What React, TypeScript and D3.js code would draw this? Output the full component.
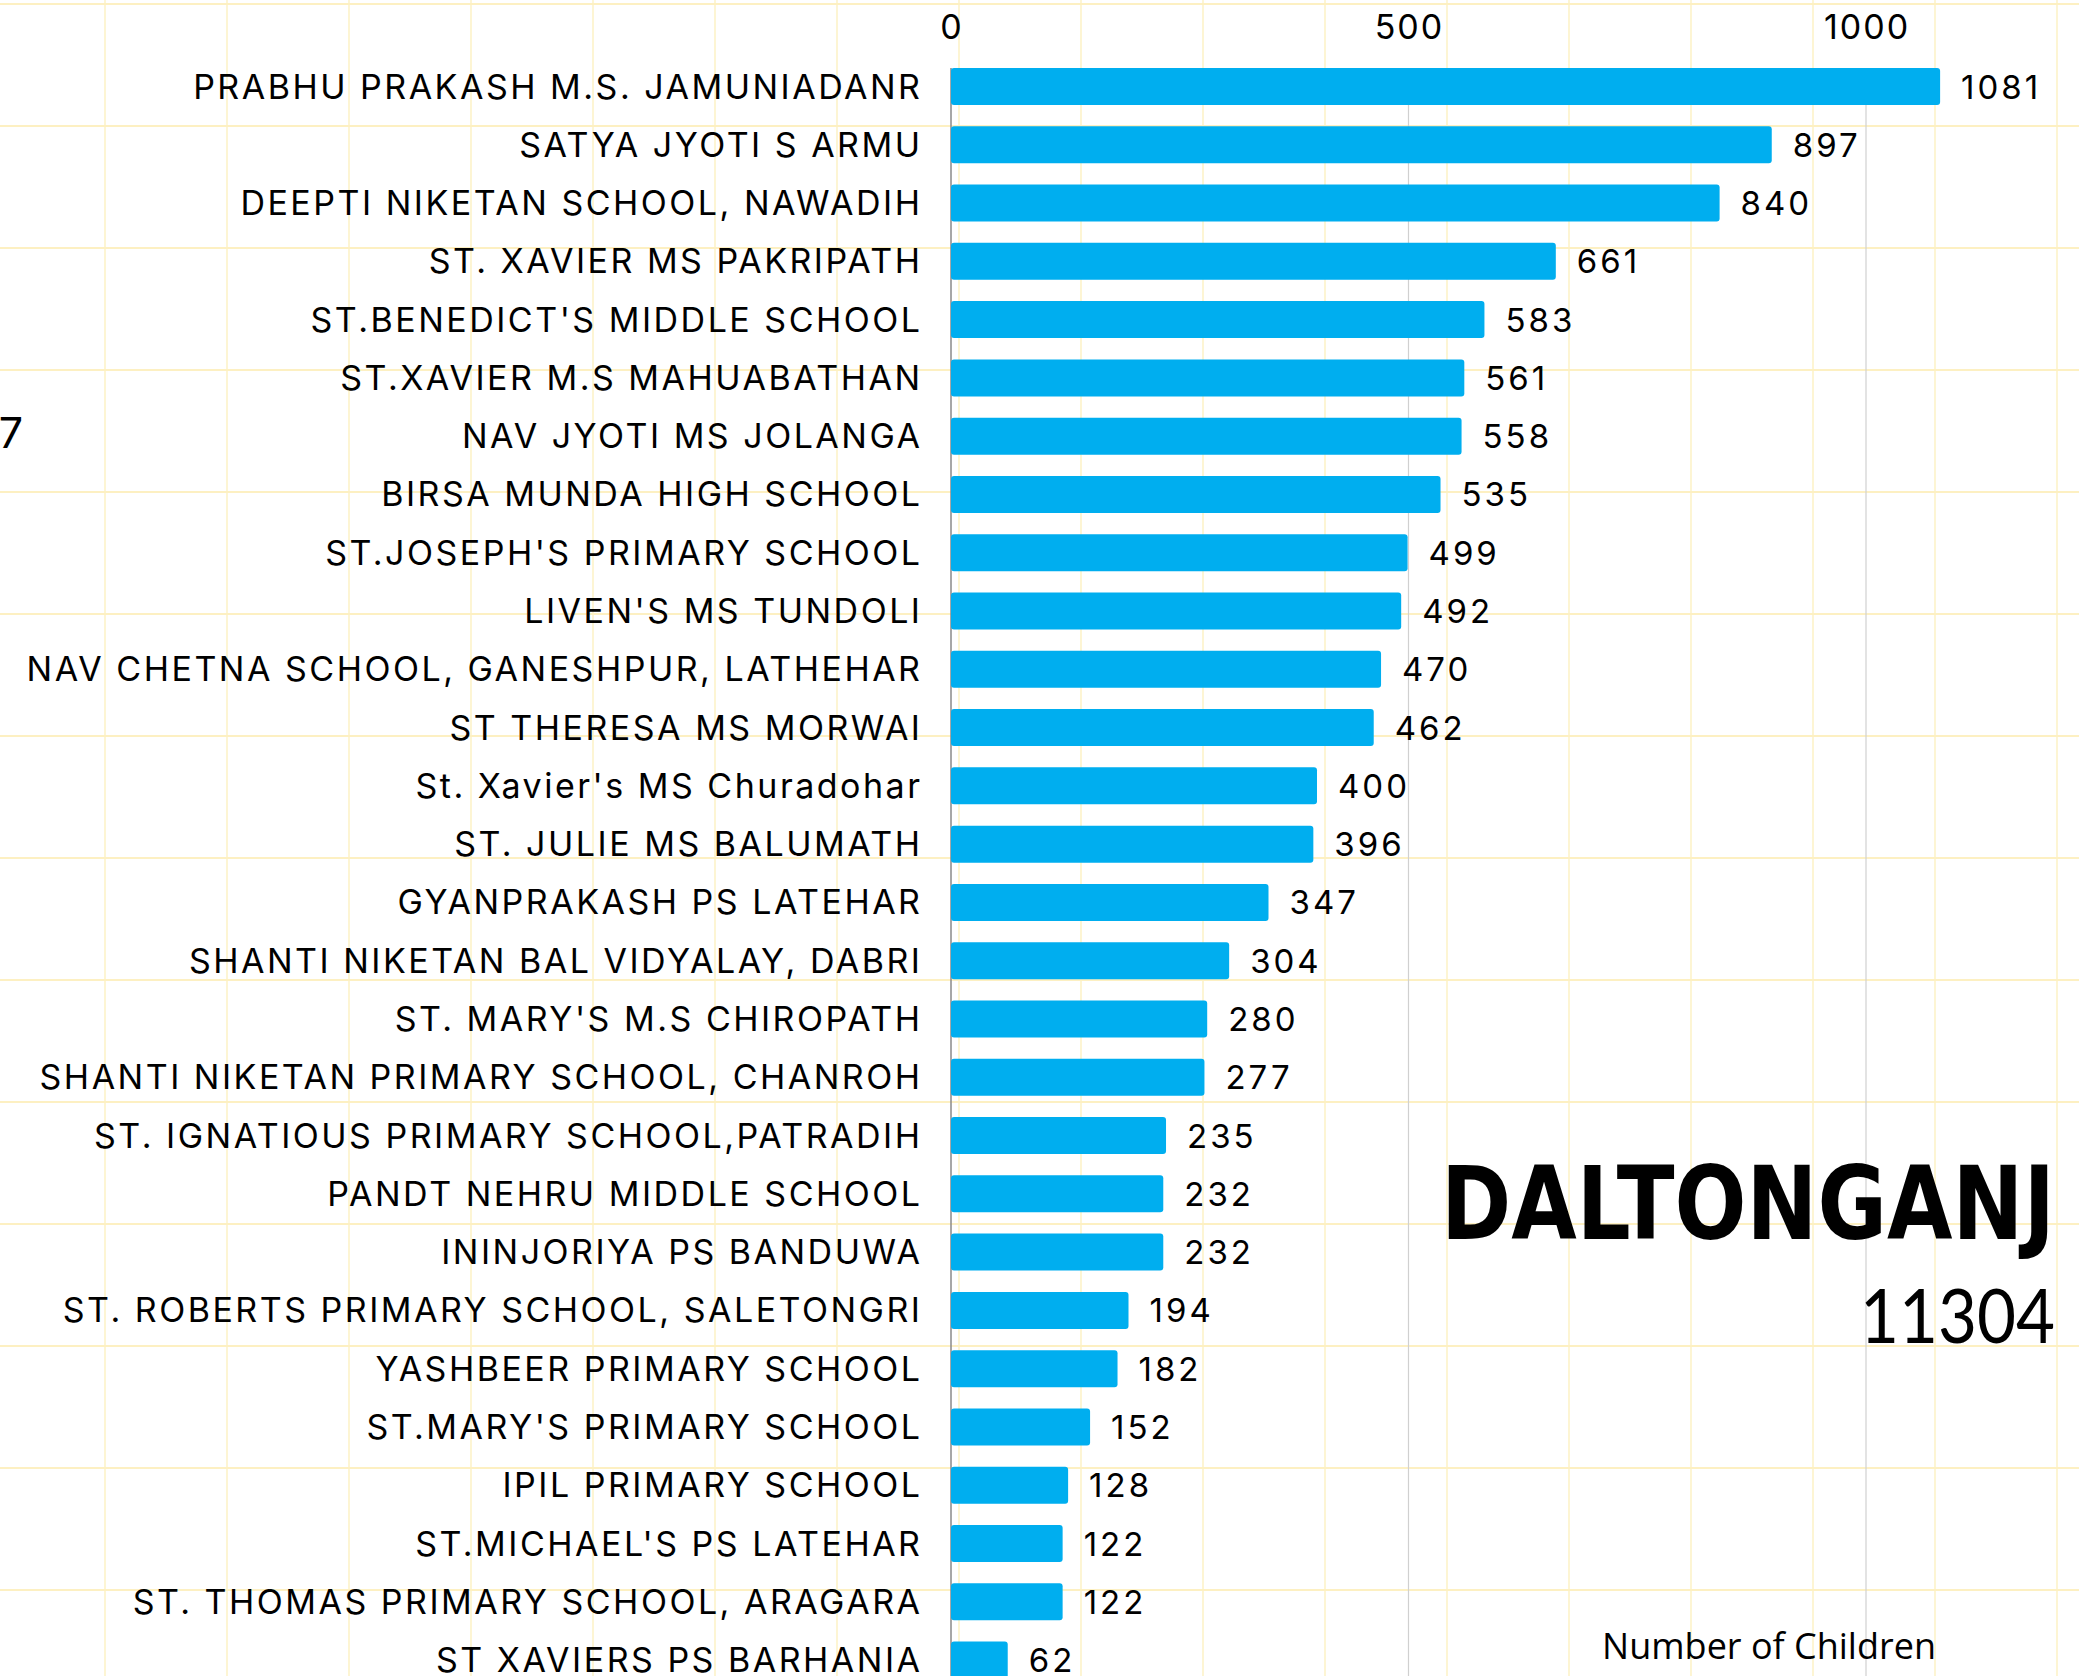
import React from "react";
import * as d3 from "d3";

const schools: string[] = [
  "PRABHU PRAKASH M.S. JAMUNIADANR",
  "SATYA JYOTI S ARMU",
  "DEEPTI NIKETAN SCHOOL, NAWADIH",
  "ST. XAVIER MS PAKRIPATH",
  "ST.BENEDICT'S MIDDLE SCHOOL",
  "ST.XAVIER M.S MAHUABATHAN",
  "NAV JYOTI MS JOLANGA",
  "BIRSA MUNDA HIGH SCHOOL",
  "ST.JOSEPH'S PRIMARY SCHOOL",
  "LIVEN'S MS TUNDOLI",
  "NAV CHETNA SCHOOL, GANESHPUR, LATHEHAR",
  "ST THERESA MS MORWAI",
  "St. Xavier's MS Churadohar",
  "ST. JULIE MS BALUMATH",
  "GYANPRAKASH PS LATEHAR",
  "SHANTI NIKETAN BAL VIDYALAY, DABRI",
  "ST. MARY'S M.S CHIROPATH",
  "SHANTI NIKETAN PRIMARY SCHOOL, CHANROH",
  "ST. IGNATIOUS PRIMARY SCHOOL,PATRADIH",
  "PANDT NEHRU MIDDLE SCHOOL",
  "ININJORIYA PS BANDUWA",
  "ST. ROBERTS PRIMARY SCHOOL, SALETONGRI",
  "YASHBEER PRIMARY SCHOOL",
  "ST.MARY'S PRIMARY SCHOOL",
  "IPIL PRIMARY SCHOOL",
  "ST.MICHAEL'S PS LATEHAR",
  "ST. THOMAS PRIMARY SCHOOL, ARAGARA",
  "ST XAVIERS PS BARHANIA",
];

const children: number[] = [
  1081, 897, 840, 661, 583, 561, 558, 535, 499, 492, 470, 462, 400, 396, 347,
  304, 280, 277, 235, 232, 232, 194, 182, 152, 128, 122, 122, 62,
];

const xTicks: number[] = [0, 500, 1000];
const regionName = "DALTONGANJ";
const regionTotal = "11304";
const axisTitle = "Number of Children";
const edgeLabel = "7";

const W = 2079;
const H = 1676;
const FONT = "Inter, 'Noto Sans', sans-serif";
const LS = 2.5;

export default function App() {
  const x = d3.scaleLinear().domain([0, 1000]).range([951, 1866]);
  const step = 58.28;
  const inner = 1 - 37 / step;
  const y0 = 68 - (inner * step) / 2;
  const y = d3
    .scaleBand<string>()
    .domain(schools)
    .range([y0, y0 + schools.length * step])
    .paddingInner(inner)
    .paddingOuter(inner / 2);

  const gridX = d3.range(-17, W + 10, 122);
  const gridY = d3.range(4, H + 10, 122);
  const yBottom = H;
  const bw = y.bandwidth();

  return (
    <svg
      width={W}
      height={H}
      style={{ position: "absolute", left: 0, top: 0, background: "#fff" }}
    >
      <rect x={0} y={0} width={W} height={H} fill="#ffffff" />
      {/* notebook grid */}
      {gridX.map((gx) => (
        <line key={"gx" + gx} x1={gx} x2={gx} y1={0} y2={H} stroke="#fdf3c9" strokeWidth={1.6} />
      ))}
      {gridY.map((gy) => (
        <line key={"gy" + gy} x1={0} x2={W} y1={gy} y2={gy} stroke="#fdf0c2" strokeWidth={2.2} />
      ))}

      {/* value gridlines */}
      {xTicks.map((t) => (
        <line
          key={"vt" + t}
          x1={x(t)}
          x2={x(t)}
          y1={68}
          y2={yBottom}
          stroke={t === 0 ? "#8a8a8a" : "#d0d0d0"}
          strokeWidth={t === 0 ? 1.5 : 1.2}
        />
      ))}
      {xTicks.map((t) => (
        <text
          key={"tl" + t}
          x={x(t) + 1}
          y={39}
          textAnchor="middle"
          fontFamily={FONT}
          fontSize={34}
          letterSpacing={2}
          fill="#000"
        >
          {t}
        </text>
      ))}

      {/* bars */}
      {schools.map((s, i) => {
        const by = y(s)!;
        const v = children[i];
        return (
          <g key={s}>
            <rect
              x={x(0)}
              y={by}
              width={x(v) - x(0)}
              height={bw}
              rx={3}
              fill="#00AEEF"
            />
            <text
              x={920 + LS}
              y={by + bw / 2 + 12}
              textAnchor="end"
              fontFamily={FONT}
              fontSize={34}
              letterSpacing={LS}
              fill="#000"
            >
              {s}
            </text>
            <text
              x={x(v) + 21}
              y={by + bw / 2 + 12}
              textAnchor="start"
              fontFamily={FONT}
              fontSize={33}
              letterSpacing={3}
              fill="#000"
            >
              {v}
            </text>
          </g>
        );
      })}

      <text x={23} y={448} textAnchor="end" fontFamily={FONT} fontSize={43} fill="#000">
        {edgeLabel}
      </text>

      <text
        x={2055}
        y={1239}
        textAnchor="end"
        fontFamily="'DejaVu Sans', sans-serif"
        fontWeight={700}
        fontSize={102}
        textLength={614}
        lengthAdjust="spacingAndGlyphs"
        fill="#000"
      >
        {regionName}
      </text>
      <text
        x={2055}
        y={1343}
        textAnchor="end"
        fontFamily="Lato, sans-serif"
        fontSize={76}
        textLength={195}
        lengthAdjust="spacingAndGlyphs"
        fill="#000"
      >
        {regionTotal}
      </text>
      <text
        x={1936}
        y={1659}
        textAnchor="end"
        fontFamily="'Open Sans', sans-serif"
        fontSize={36}
        fill="#000"
      >
        {axisTitle}
      </text>
    </svg>
  );
}
